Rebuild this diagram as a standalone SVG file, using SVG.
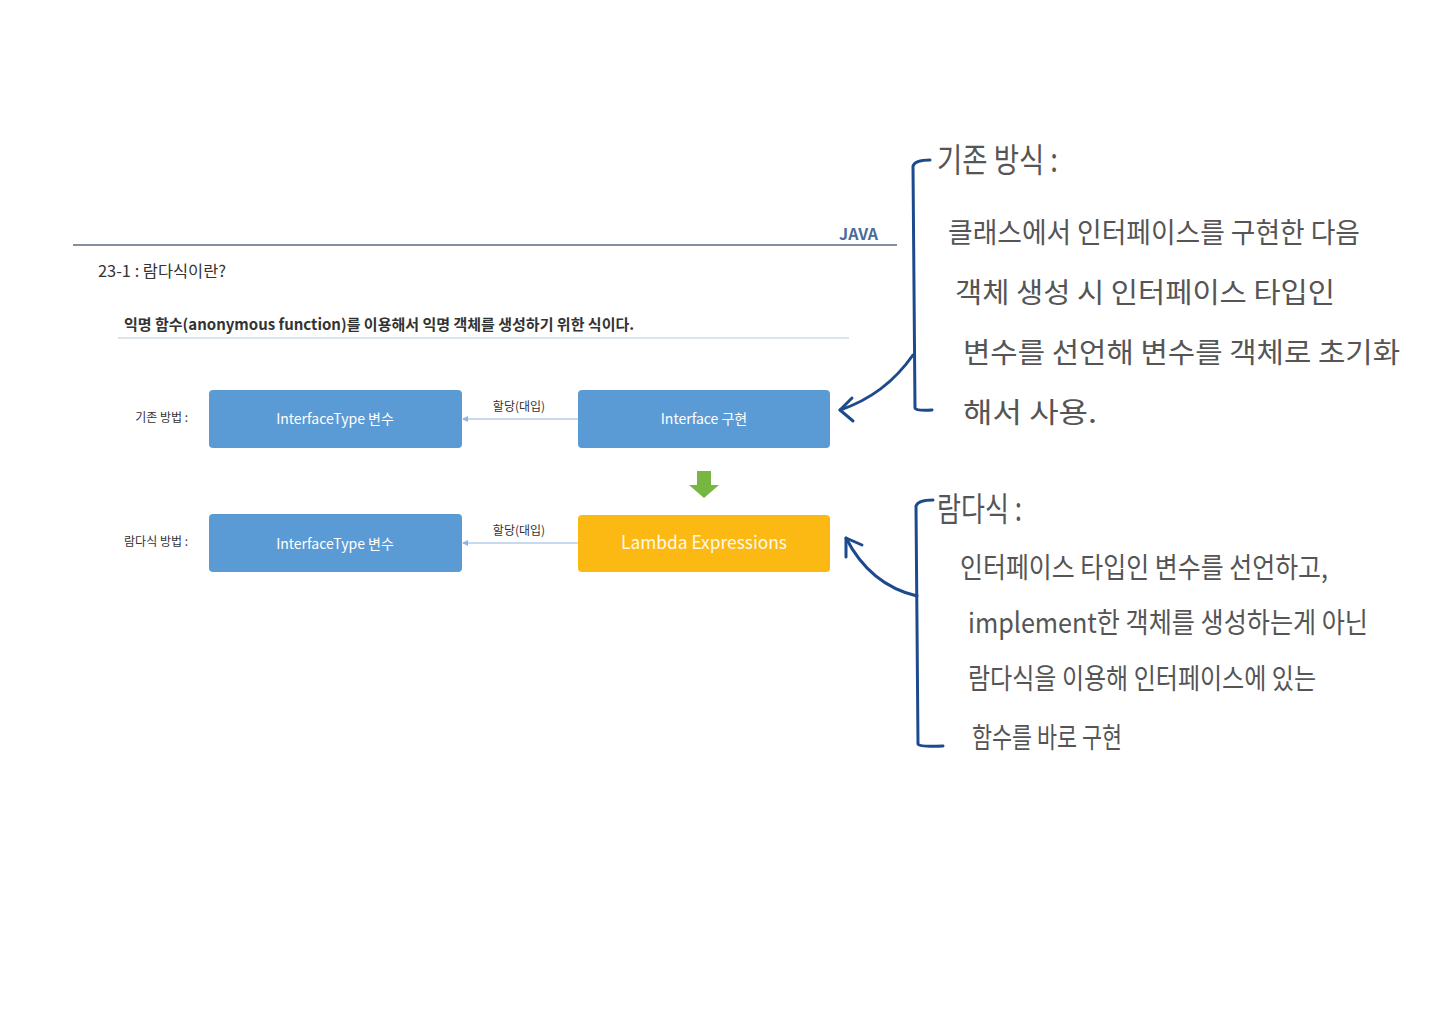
<svg xmlns="http://www.w3.org/2000/svg" width="1440" height="1018" viewBox="0 0 1440 1018">
<style>
.doc{font-family:"Noto Sans CJK KR","Noto Sans",sans-serif;fill:#333}
.box{fill:#5b9bd5}
.lam{fill:#fdb913}
.bt{font-family:"Noto Sans CJK KR","Noto Sans",sans-serif;fill:#fff;font-size:14px;text-anchor:middle}
.lbl{font-family:"Noto Sans CJK KR",sans-serif;font-size:12px;fill:#333}
.conn{stroke:#8db4e2;stroke-width:1.2;fill:none}
.ink{stroke:#1d4a8c;stroke-width:3;fill:none;stroke-linecap:round;stroke-linejoin:round}
.hw{font-family:"Noto Sans CJK KR",sans-serif;fill:#555;font-size:28px}
.hh{font-family:"Noto Sans CJK KR",sans-serif;fill:#555;font-size:33px}
</style>
<defs>
<marker id="ah" markerWidth="6" markerHeight="6" refX="5" refY="3" orient="auto" markerUnits="userSpaceOnUse">
<path d="M0,0 L6,3 L0,6 z" fill="#8db4e2"/>
</marker>
</defs>
<rect width="1440" height="1018" fill="#fff"/>
<g id="header">
<line x1="73" y1="245" x2="897" y2="245" stroke="#5a6b80" stroke-width="1.6"/>
<text x="878" y="240" text-anchor="end" font-family="Noto Sans CJK KR,sans-serif" font-weight="bold" font-size="16" fill="#4a6b9c">JAVA</text>
<text class="doc" x="98" y="277" font-size="16" textLength="128" lengthAdjust="spacingAndGlyphs">23-1 : 람다식이란?</text>
<text class="doc" x="124" y="330" font-size="15" font-weight="bold" fill="#222">익명 함수(anonymous function)를 이용해서 익명 객체를 생성하기 위한 식이다.</text>
<line x1="118" y1="338" x2="849" y2="338" stroke="#b9cadb" stroke-width="1.2"/>
</g>
<g id="labels">
<text class="lbl" x="188" y="422" text-anchor="end">기존 방법 :</text>
<text class="lbl" x="188" y="546" text-anchor="end">람다식 방법 :</text>
</g>
<g id="node-var1"><rect class="box" x="209" y="390" width="253" height="58" rx="4"/><text class="bt" x="335" y="424">InterfaceType 변수</text></g>
<g id="node-impl"><rect class="box" x="578" y="390" width="252" height="58" rx="4"/><text class="bt" x="704" y="424">Interface 구현</text></g>
<g id="node-var2"><rect class="box" x="209" y="514" width="253" height="58" rx="4"/><text class="bt" x="335" y="549">InterfaceType 변수</text></g>
<g id="node-lambda"><rect class="lam" x="578" y="515" width="252" height="57" rx="4"/><text class="bt" x="704" y="549" style="font-size:18px;fill:#fff8e6" textLength="166" lengthAdjust="spacingAndGlyphs">Lambda Expressions</text></g>
<g id="connectors">
<line class="conn" x1="578" y1="419" x2="463" y2="419" marker-end="url(#ah)"/>
<text class="lbl" x="519" y="411" text-anchor="middle">할당(대입)</text>
<line class="conn" x1="578" y1="543" x2="463" y2="543" marker-end="url(#ah)"/>
<text class="lbl" x="519" y="535" text-anchor="middle">할당(대입)</text>
<path d="M697,471 H711 V485 H719 L704,498 L689,485 H697 Z" fill="#77b640"/>
</g>
<g id="note1">
<path class="ink" d="M930,160 Q915,160 913,166 L915,408 Q916,411 932,410"/>
<path class="ink" d="M913,355 Q885,395 840,410"/>
<path class="ink" d="M852,398 L840,410 L853,421"/>
<text class="hh" x="937" y="172" textLength="121" lengthAdjust="spacingAndGlyphs">기존 방식 :</text>
<text class="hw" x="948" y="243" textLength="412" lengthAdjust="spacingAndGlyphs">클래스에서 인터페이스를 구현한 다음</text>
<text class="hw" x="955" y="303" textLength="380" lengthAdjust="spacingAndGlyphs">객체 생성 시 인터페이스 타입인</text>
<text class="hw" x="963" y="363" textLength="437" lengthAdjust="spacingAndGlyphs">변수를 선언해 변수를 객체로 초기화</text>
<text class="hw" x="963" y="423" textLength="134" lengthAdjust="spacingAndGlyphs">해서 사용.</text>
</g>
<g id="note2">
<path class="ink" d="M933,500 Q918,500 916,506 L918,744 Q919,747 943,746"/>
<path class="ink" d="M917,596 Q870,585 846,538"/>
<path class="ink" d="M846,557 L846,538 L862,545"/>
<text class="hh" x="937" y="521" textLength="85" lengthAdjust="spacingAndGlyphs">람다식 :</text>
<text class="hw" x="960" y="578" textLength="368" lengthAdjust="spacingAndGlyphs">인터페이스 타입인 변수를 선언하고,</text>
<text class="hw" x="968" y="633" textLength="400" lengthAdjust="spacingAndGlyphs">implement한 객체를 생성하는게 아닌</text>
<text class="hw" x="968" y="689" textLength="348" lengthAdjust="spacingAndGlyphs">람다식을 이용해 인터페이스에 있는</text>
<text class="hw" x="972" y="748" textLength="150" lengthAdjust="spacingAndGlyphs">함수를 바로 구현</text>
</g>
</svg>
